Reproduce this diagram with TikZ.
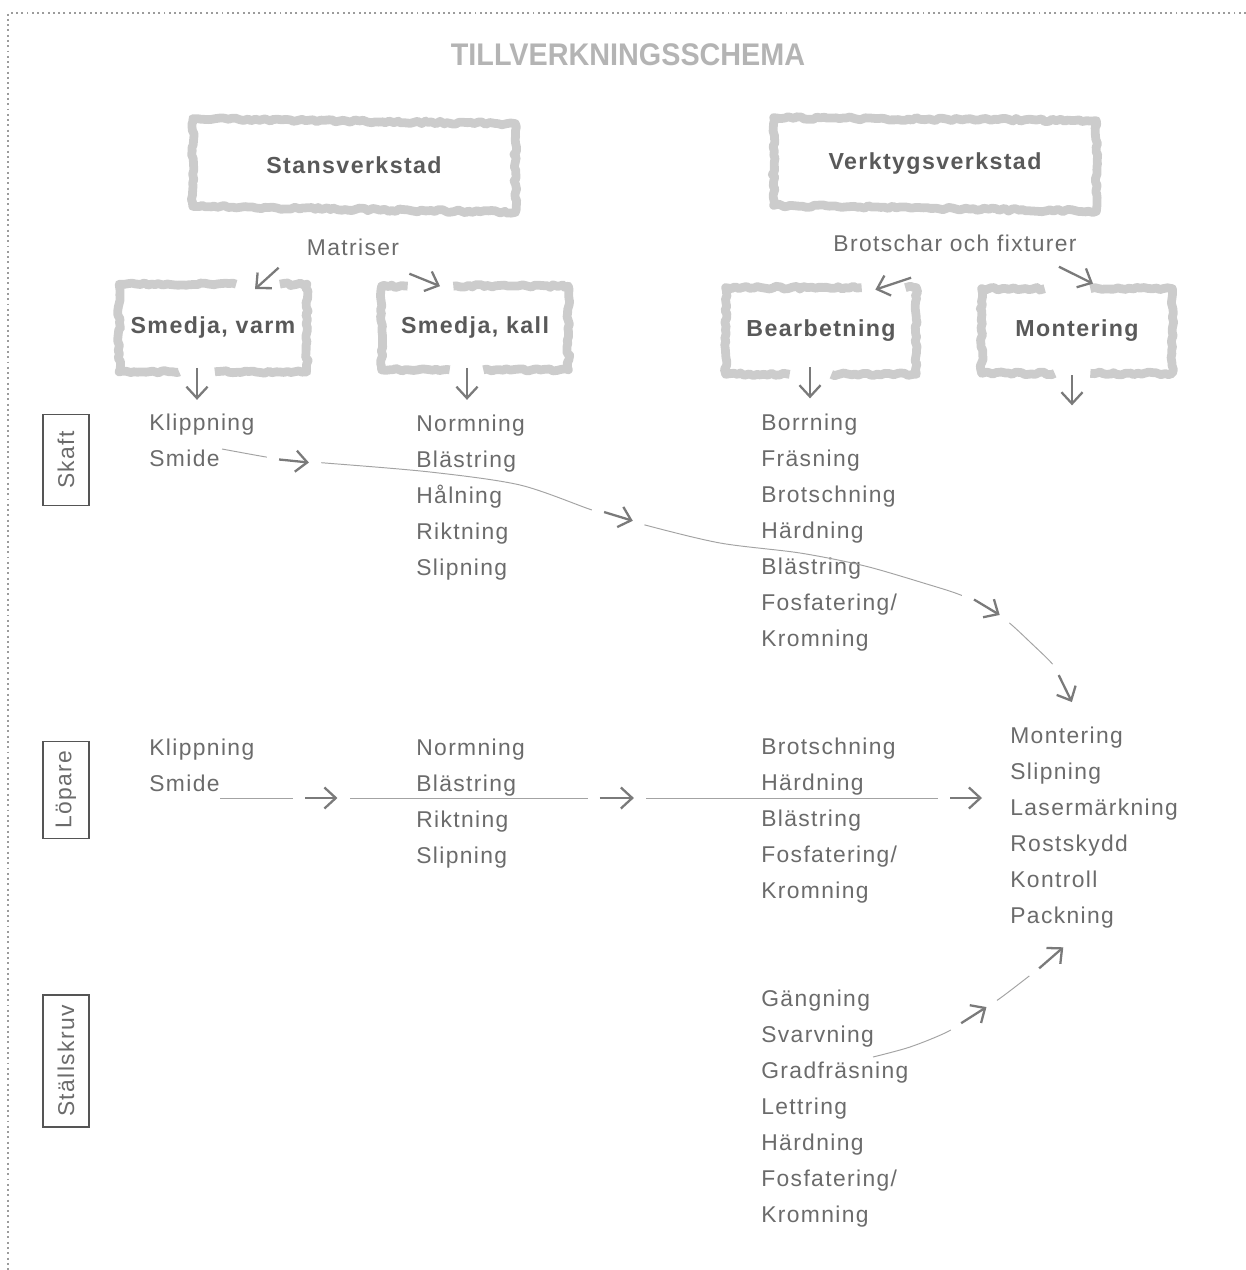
\documentclass[tikz,border=0pt]{standalone}
\usepackage{fontspec}
\setmainfont{Liberation Sans}
\newfontfamily\listfont{Liberation Sans}[LetterSpace=6]
\newfontfamily\headfont{Liberation Sans}[FakeStretch=0.92]
\usetikzlibrary{arrows.meta,calc,decorations.pathmorphing,decorations.markings}

\definecolor{textgray}{HTML}{6B6B6B}
\definecolor{labelgray}{HTML}{595959}
\definecolor{titlegray}{HTML}{B4B4B4}
\definecolor{boxgray}{HTML}{CCCCCC}
\definecolor{arrowgray}{HTML}{7A7A7A}
\definecolor{linegray}{HTML}{A3A3A3}
\definecolor{framegray}{HTML}{9C9C9C}
\definecolor{sidegray}{HTML}{555555}

% short bold arrow laid on a flow line
\newcommand{\arrowmark}[1]{\draw[flowtick] (-#1,0) -- (#1,0);}

\tikzset{
  item/.style={anchor=north west, inner sep=0pt, align=left, text=textgray,
    font=\listfont\fontsize{13}{20.41}\selectfont},
  note/.style={inner sep=0pt, text=textgray, font=\listfont\fontsize{13}{16}\selectfont},
  station/.style={inner sep=0pt, text=labelgray, font=\listfont\bfseries\fontsize{13.2}{16}\selectfont},
  rough/.style={draw=boxgray, line width=5pt, line join=round,
    decorate, decoration={random steps, segment length=2.2pt, amplitude=0.8pt}},
  part/.style={draw=sidegray, line width=0.7pt, rotate=90, inner sep=0pt,
    minimum height=0.92cm, text=textgray, font=\listfont\fontsize{13}{16}\selectfont},
  tick/.style={draw=arrowgray, line width=1.3pt, -{Straight Barb[length=6.5pt, width=12pt]}},
  flowtick/.style={tick, preaction={draw=white, line width=7pt, -, shorten <=-7pt, shorten >=-7pt}},
  flow/.style={draw=linegray, line width=0.55pt, postaction={decorate}}
}

\begin{document}
\begin{tikzpicture}[x=0.02cm, y=-0.02cm]
\pgfmathsetseed{11}
\useasboundingbox (0,0) rectangle (1246,1270);

% dotted frame, top and left only
\draw[framegray, line width=1.1pt, dash pattern=on 1.1pt off 1.9pt] (1246,13) -- (8,13) -- (8,1270);

% title
\node[text=titlegray, font=\headfont\bfseries\fontsize{17.8}{20}\selectfont] (title) at (628,55) {TILLVERKNINGSSCHEMA};

% workshops
\node[station, minimum width=6.44cm, minimum height=1.72cm] (stans) at (354,165) {Stansverkstad};
\node[station, minimum width=6.44cm, minimum height=1.76cm] (verk) at (935,164) {Verktygsverkstad};
\node[station, minimum width=3.74cm, minimum height=1.74cm] (varm) at (213,328) {Smedja, varm};
\node[station, minimum width=3.72cm, minimum height=1.66cm] (kall) at (475,328) {Smedja, kall};
\node[station, minimum width=3.8cm, minimum height=1.72cm] (bearb) at (821,331) {Bearbetning};
\node[station, minimum width=3.8cm, minimum height=1.68cm] (mont) at (1077,331) {Montering};

% hand drawn borders
\draw[rough] ($(stans.north west)+(0,-3)$) -- ($(stans.north east)+(0,2)$) -- ($(stans.south east)+(0,4)$) -- ($(stans.south west)+(0,-2)$) -- cycle;
\draw[rough] ($(verk.north west)+(0,-2)$) -- ($(verk.north east)+(0,1)$) -- ($(verk.south east)+(0,3)$) -- ($(verk.south west)+(0,-3)$) -- cycle;
\draw[rough] ($(varm.north west)+(117,0)$) -- (varm.north west) -- (varm.south west) -- ($(varm.south west)+(60,0)$);
\draw[rough] ($(varm.north east)+(-27,0)$) -- (varm.north east) -- (varm.south east) -- ($(varm.south east)+(-92,0)$);
\draw[rough] ($(kall.north west)+(26,0)$) -- (kall.north west) -- (kall.south west) -- ($(kall.south west)+(68,0)$);
\draw[rough] ($(kall.north east)+(-115,0)$) -- (kall.north east) -- (kall.south east) -- ($(kall.south east)+(-85,0)$);
\draw[rough] ($(bearb.north west)+(136,0)$) -- (bearb.north west) -- (bearb.south west) -- ($(bearb.south west)+(64,0)$);
\draw[rough] ($(bearb.north east)+(-11,0)$) -- (bearb.north east) -- (bearb.south east) -- ($(bearb.south east)+(-85,0)$);
\draw[rough] ($(mont.north west)+(63,0)$) -- (mont.north west) -- (mont.south west) -- ($(mont.south west)+(73,0)$);
\draw[rough] ($(mont.north east)+(-82,0)$) -- (mont.north east) -- (mont.south east) -- ($(mont.south east)+(-82,0)$);

% deliveries
\node[note] (matriser) at (353,247) {Matriser};
\node[note] (brotschar) at (955,243) {Brotschar och fixturer};

% parts
\node[part, minimum width=1.82cm] (skaft) at (66,460) {Skaft};
\node[part, minimum width=1.94cm] (lopare) at (66,790) {Löpare};
\node[part, minimum width=2.64cm] (stallskruv) at (66,1061) {Ställskruv};

% operations
\node[item] (skaftA) at (149,414) {Klippning\\Smide};
\node[item] (skaftB) at (416,415) {Normning\\Blästring\\Hålning\\Riktning\\Slipning};
\node[item] (skaftC) at (761,414) {Borrning\\Fräsning\\Brotschning\\Härdning\\Blästring\\Fosfatering/\\Kromning};
\node[item] (lopA) at (149,739) {Klippning\\Smide};
\node[item] (lopB) at (416,739) {Normning\\Blästring\\Riktning\\Slipning};
\node[item] (lopC) at (761,738) {Brotschning\\Härdning\\Blästring\\Fosfatering/\\Kromning};
\node[item] (stallC) at (761,990) {Gängning\\Svarvning\\Gradfräsning\\Lettring\\Härdning\\Fosfatering/\\Kromning};
\node[item] (montlist) at (1010,727) {Montering\\Slipning\\Lasermärkning\\Rostskydd\\Kontroll\\Packning};

% small arrows into and out of the workshops
\draw[tick] ($(matriser.south west)+(-28,12)$) -- ($(varm.north)+(42,5)$);
\draw[tick] ($(matriser.south east)+(10,18)$) -- ($(kall.north)+(-35,0)$);
\draw[tick] ($(varm.south)+(-16,-4)$) -- ($(varm.south)+(-16,28)$);
\draw[tick] ($(kall.south)+(-8,-2)$) -- ($(kall.south)+(-8,30)$);
\draw[tick] ($(brotschar.south west)+(78,26)$) -- ($(bearb.north east)+(-41,2)$);
\draw[tick] ($(brotschar.south east)+(-18,15)$) -- ($(mont.north)+(16,-5)$);
\draw[tick] ($(bearb.south)+(-11,-7)$) -- ($(bearb.south)+(-11,24)$);
\draw[tick] ($(mont.south)+(-5,2)$) -- ($(mont.south)+(-5,32)$);

% flow lines to assembly
\coordinate (sk0) at ($(skaftA.north west)+(73,35)$);
\coordinate (sk9) at ($(montlist.north west)+(62,-25)$);
\draw[flow, decoration={markings,
    mark=at position 1.46cm with {\arrowmark{15}},
    mark=at position 8.08cm with {\arrowmark{15}},
    mark=at position 15.7cm with {\arrowmark{15}},
    mark=at position -0.3cm with {\arrowmark{15}}}]
  plot[smooth, tension=0.5] coordinates {(sk0) (266,457) (294,461) (325,463) (430,472) (520,485) (592,510) (617,516) (645,525) (720,543) (800,553) (865,566) (930,585) (958,594) (983,605) (1007,621) (1030,642) (1055,667) (1065,688) (sk9)};

\coordinate (lo0) at ($(lopA.north west)+(71,59)$);
\coordinate (lo9) at ($(montlist.north west)+(-28,71)$);
\draw[flow, decoration={markings,
    mark=at position 2.03cm with {\arrowmark{16}},
    mark=at position 7.94cm with {\arrowmark{17}},
    mark=at position -0.32cm with {\arrowmark{16}}}]
  (lo0) -- (lo9);

\coordinate (st0) at ($(stallC.north west)+(112,67)$);
\coordinate (st9) at ($(montlist.north west)+(53,220)$);
\draw[flow, decoration={markings,
    mark=at position 2.2cm with {\arrowmark{15}},
    mark=at position -0.32cm with {\arrowmark{16}}}]
  plot[smooth, tension=0.5] coordinates {(st0) (910,1047) (947,1032) (974,1015) (999,999) (1033,973) (1051,958) (st9)};

\end{tikzpicture}
\end{document}
